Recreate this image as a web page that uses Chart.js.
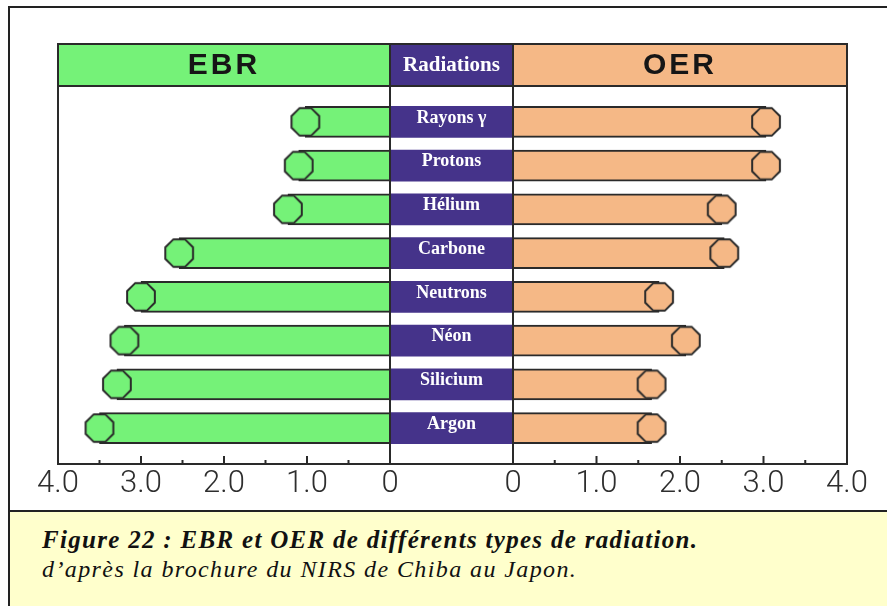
<!DOCTYPE html>
<html>
<head>
<meta charset="utf-8">
<script src="https://cdn.jsdelivr.net/npm/chart.js@4.4.1/dist/chart.umd.min.js"></script>
<style>
  body { margin: 0; background: #fff; }
  #wrap { position: relative; width: 887px; height: 606px; overflow: hidden; background: #fff; }
  #frame { position: absolute; left: 8px; top: 6px; width: 900px; height: 502px; border: 2px solid #222; }
  #caption { position: absolute; left: 8px; top: 510px; width: 900px; height: 120px; background: #ffffcc;
             border-left: 2px solid #222; border-top: 2px solid #222; }
  #cap1 { position: absolute; left: 32px; top: 14px; font: italic bold 25px 'Liberation Serif', serif;
          letter-spacing: 1.3px; color: #111; white-space: nowrap; }
  #cap2 { position: absolute; left: 32px; top: 44px; font: italic 24px 'Liberation Serif', serif;
          letter-spacing: 1.4px; color: #111; white-space: nowrap; }
  canvas { position: absolute; left: 0; top: 0; }
</style>
</head>
<body>
<div id="wrap">
  <div id="frame"></div>
  <div id="caption">
    <div id="cap1">Figure 22 : EBR et OER de différents types de radiation.</div>
    <div id="cap2">d’après la brochure du NIRS de Chiba au Japon.</div>
  </div>
  <canvas id="ebrChart" width="887" height="512"></canvas>
  <canvas id="midChart" width="887" height="512"></canvas>
  <canvas id="oerChart" width="887" height="512"></canvas>
</div>
<script>
// ---- data ----
const RADIATIONS = ['Rayons γ', 'Protons', 'Hélium', 'Carbone', 'Neutrons', 'Néon', 'Silicium', 'Argon'];
const EBR = [1.02, 1.1, 1.23, 2.54, 3.0, 3.2, 3.29, 3.5];
const OER = [3.03, 3.03, 2.5, 2.53, 1.75, 2.07, 1.66, 1.66];
const TICK_LABELS = ['0', '1.0', '2.0', '3.0', '4.0'];

const GREEN = '#75f278';
const ORANGE = '#f5b886';
const PURPLE = '#45338a';
const LINE = '#2a2a2a';

// octagon marker used as the round cap at the end of every bar
function octagon(fill) {
  const c = document.createElement('canvas');
  c.width = 34; c.height = 34;
  const g = c.getContext('2d');
  g.beginPath();
  for (let k = 0; k < 8; k++) {
    const a = Math.PI / 8 + k * Math.PI / 4;
    const px = 17 + 15 * Math.cos(a), py = 17 + 15 * Math.sin(a);
    k ? g.lineTo(px, py) : g.moveTo(px, py);
  }
  g.closePath();
  g.fillStyle = fill;
  g.fill();
  g.lineWidth = 2;
  g.strokeStyle = LINE;
  g.stroke();
  return c;
}

// ---- panel plugin: header band, frame, inner ticks ----
const panelPlugin = {
  id: 'panel',
  beforeDatasetsDraw(chart, args, opts) {
    const { ctx, chartArea: a } = chart;
    ctx.save();
    ctx.fillStyle = opts.fill;
    ctx.fillRect(a.left, a.top - 42, a.right - a.left, 42);
    ctx.restore();
  },
  afterDatasetsDraw(chart, args, opts) {
    const { ctx, chartArea: a } = chart;
    ctx.save();
    ctx.strokeStyle = LINE;
    ctx.lineWidth = 2;
    ctx.strokeRect(a.left, a.top - 42, a.right - a.left, 42);
    ctx.strokeRect(a.left, a.top, a.right - a.left, a.bottom - a.top);

    ctx.fillStyle = opts.textColor;
    ctx.font = opts.font;
    ctx.textAlign = 'center';
    ctx.textBaseline = 'middle';
    if (opts.spacing) ctx.letterSpacing = opts.spacing;
    ctx.fillText(opts.text, (a.left + a.right) / 2, a.top - 20);
    ctx.letterSpacing = '0px';

    if (opts.ticks) {
      const x = chart.scales.x;
      ctx.fillStyle = LINE;
      x.ticks.forEach(t => {
        const px = x.getPixelForValue(t.value);
        ctx.fillRect(px - 1, a.bottom - 8, 2, 8);
        if (t.value + 0.5 < x.max) {
          const ph = x.getPixelForValue(t.value + 0.5);
          ctx.fillRect(ph - 1, a.bottom - 4, 2, 4);
        }
      });
    }
    ctx.restore();
  }
};

// ---- labels in the middle column ----
const labelPlugin = {
  id: 'midLabels',
  afterDatasetsDraw(chart) {
    const { ctx, chartArea: a, scales: { y } } = chart;
    ctx.save();
    ctx.fillStyle = '#fff';
    ctx.font = "bold 18px 'Liberation Serif', serif";
    ctx.textAlign = 'center';
    ctx.textBaseline = 'middle';
    RADIATIONS.forEach((r, i) => {
      ctx.fillText(r, (a.left + a.right) / 2, y.getPixelForValue(i) - 4);
    });
    ctx.restore();
  }
};

const yAxis = { type: 'linear', min: -0.82, max: 7.82, reverse: true, offset: false, display: false };

function valueAxis(reverse) {
  return {
    type: 'linear', min: 0, max: 4, reverse,
    border: { display: false },
    grid: { display: false, drawTicks: false },
    ticks: {
      stepSize: 1, padding: 2, autoSkip: false, maxRotation: 0,
      color: '#2e2e2e',
      font: { family: "Roboto, 'Liberation Sans', sans-serif", size: 31, weight: 300 },
      callback: v => TICK_LABELS[Math.round(v)]
    },
    afterFit(s) { s.height = 40; }
  };
}

function sideChart(id, values, color, reverse, pad, header) {
  const pts = values.map((v, i) => ({ x: v, y: i }));
  return new Chart(document.getElementById(id), {
    type: 'bar',
    data: {
      datasets: [
        {
          type: 'line', data: pts, showLine: false, order: 1, clip: false,
          pointStyle: octagon(color), pointRadius: 15
        },
        {
          data: pts, backgroundColor: color, borderColor: LINE, borderWidth: 2,
          barThickness: 31, order: 2
        }
      ]
    },
    options: {
      indexAxis: 'y',
      responsive: false,
      animation: false,
      events: [],
      layout: { padding: pad },
      scales: { x: valueAxis(reverse), y: yAxis },
      plugins: {
        legend: { display: false },
        tooltip: { enabled: false },
        panel: Object.assign({ ticks: true, textColor: '#161616',
          font: "bold 30px 'Liberation Sans', sans-serif", spacing: '3px' }, header)
      }
    },
    plugins: [panelPlugin]
  });
}

sideChart('ebrChart', EBR, GREEN, true,
  { left: 58, right: 887 - 390, top: 86, bottom: 8 }, { text: 'EBR', fill: GREEN });
sideChart('oerChart', OER, ORANGE, false,
  { left: 513, right: 887 - 847, top: 86, bottom: 8 }, { text: 'OER', fill: ORANGE });

new Chart(document.getElementById('midChart'), {
  type: 'bar',
  data: {
    datasets: [{
      data: RADIATIONS.map((r, i) => ({ x: [0, 1], y: i })),
      backgroundColor: PURPLE, borderWidth: 0, barThickness: 31
    }]
  },
  options: {
    indexAxis: 'y',
    responsive: false,
    animation: false,
    events: [],
    layout: { padding: { left: 390, right: 887 - 513, top: 86, bottom: 48 } },
    scales: {
      x: { type: 'linear', min: 0, max: 1, display: false },
      y: yAxis
    },
    plugins: {
      legend: { display: false },
      tooltip: { enabled: false },
      panel: { text: 'Radiations', fill: PURPLE, textColor: '#fff',
               font: "bold 21px 'Liberation Serif', serif", ticks: false }
    }
  },
  plugins: [panelPlugin, labelPlugin]
});
</script>
</body>
</html>
